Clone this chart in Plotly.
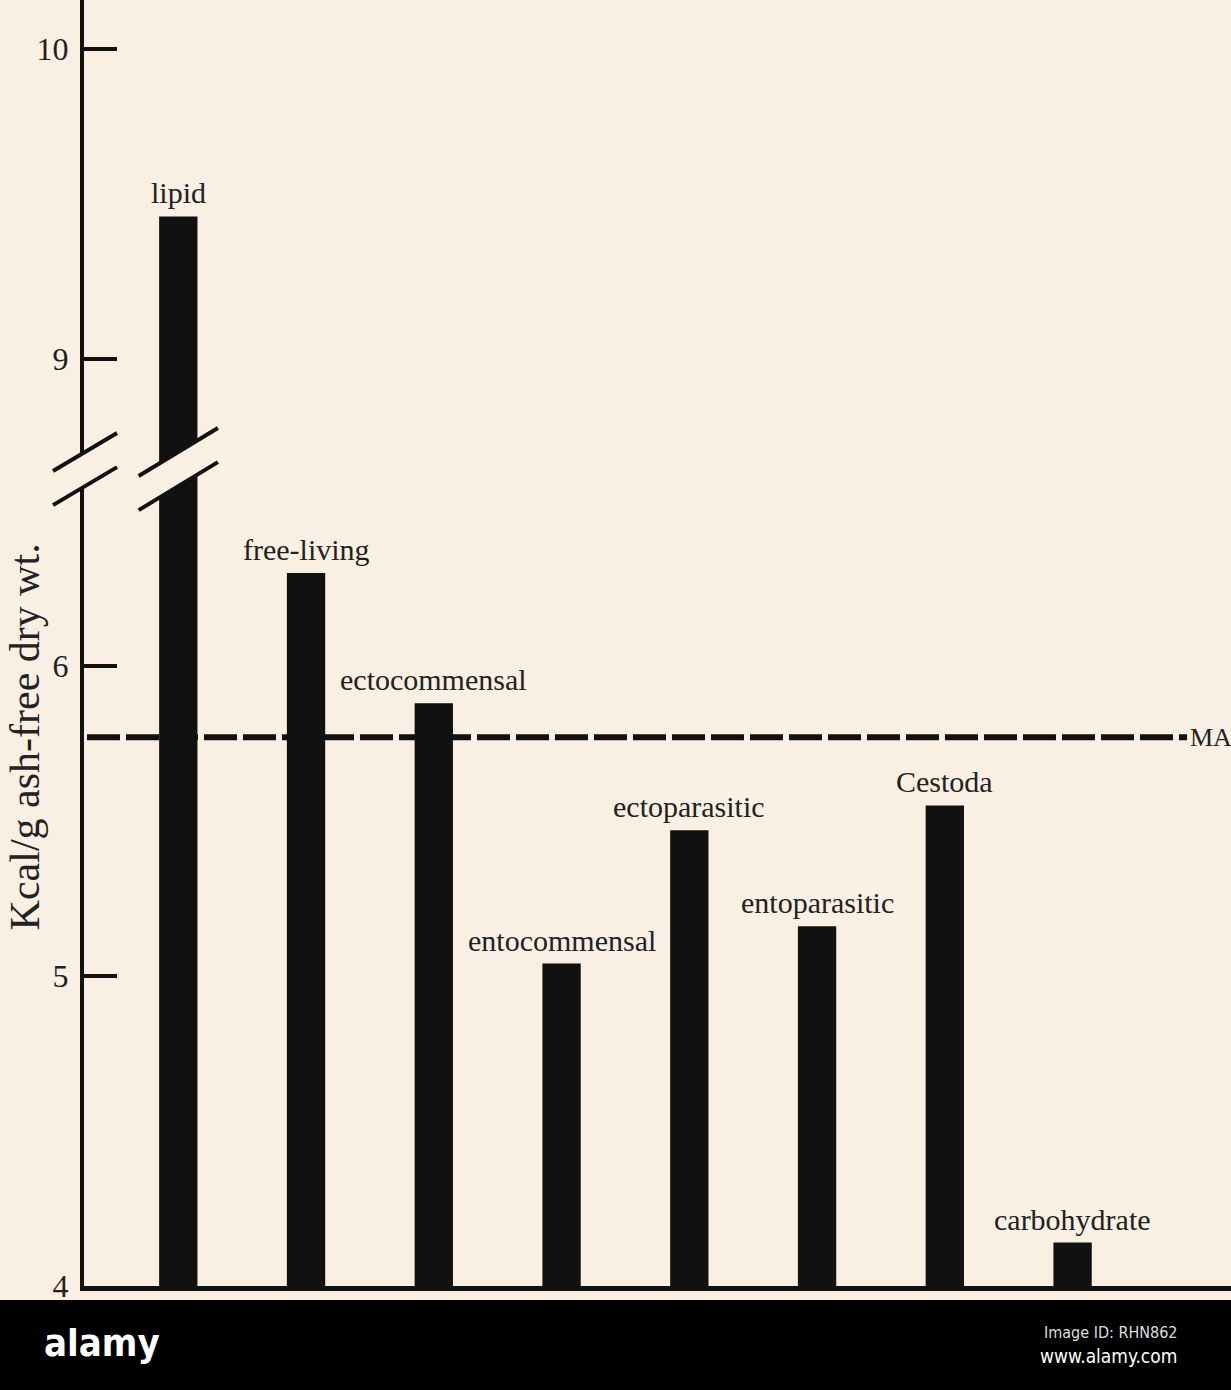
import plotly.graph_objects as go

# ---------------- data ----------------
categories = ["lipid", "free-living", "ectocommensal", "entocommensal",
              "ectoparasitic", "entoparasitic", "Cestoda", "carbohydrate"]
kcal_values = [9.46, 6.30, 5.88, 5.04, 5.47, 5.16, 5.55, 4.14]
reference_line_value = 5.77
reference_line_label = "MA"
y_tick_values = [4, 5, 6, 9, 10]
y_tick_labels = ["4", "5", "6", "9", "10"]
y_axis_title = "Kcal/g ash-free dry wt."

# ---------------- broken axis mapping ----------------
BREAK_OFFSET = 2.01          # upper segment (9-10) is drawn shifted down by this
UPPER_START = 8.0


def to_display(v):
    return v - BREAK_OFFSET if v >= UPPER_START else v


display_values = [to_display(v) for v in kcal_values]
display_ticks = [to_display(v) for v in y_tick_values]

BG = "#f9f0e3"
INK = "#111111"
TXT = "#222222"
SERIF = "Liberation Serif, Times New Roman, serif"
NARROW = "Liberation Sans Narrow, DejaVu Sans Condensed, sans-serif"

W, H = 1231, 1390
ML, MR, MT, MB = 84, 0, 0, 104

fig = go.Figure()
fig.add_trace(go.Bar(
    x=categories, y=display_values, base=0,
    marker=dict(color=INK, line=dict(width=0)),
    width=0.30, hoverinfo="skip", showlegend=False,
))

shapes = []
# dashed reference line (below bars)
shapes.append(dict(type="line", xref="paper", yref="y", layer="below",
                   x0=0.0026, x1=0.9617,
                   y0=reference_line_value, y1=reference_line_value,
                   line=dict(color=INK, width=6, dash="33px,6px")))

# axis break
UP, LO = 6.69, 6.58
r_ax = 0.0613
xl, xr = -0.0270, 0.0288
shapes.append(dict(type="path", xref="paper", yref="y", layer="above",
                   path=f"M{xl},{LO - r_ax} L{xr},{LO + r_ax} L{xr},{UP + r_ax} L{xl},{UP - r_ax} Z",
                   fillcolor=BG, line=dict(width=0)))
for yc in (UP, LO):
    shapes.append(dict(type="line", xref="paper", yref="y", layer="above",
                       x0=xl, x1=xr, y0=yc - r_ax, y1=yc + r_ax,
                       line=dict(color=INK, width=4)))
# break through the lipid bar
bi = 0
hw = 0.31
r_b = 0.0774
shapes.append(dict(type="path", xref="x", yref="y", layer="above",
                   path=f"M{bi - hw},{LO - r_b} L{bi + hw},{LO + r_b} L{bi + hw},{UP + r_b} L{bi - hw},{UP - r_b} Z",
                   fillcolor=BG, line=dict(width=0)))
for yc in (UP, LO):
    shapes.append(dict(type="line", xref="x", yref="y", layer="above",
                       x0=bi - hw, x1=bi + hw, y0=yc - r_b, y1=yc + r_b,
                       line=dict(color=INK, width=4)))

# bottom dark band of the page
shapes.append(dict(type="rect", xref="paper", yref="paper", layer="above",
                   x0=-0.1, x1=1.05, y0=-0.095, y1=(1286 - 1300) / 1286,
                   fillcolor="#000000", line=dict(width=0)))

annotations = []
for cat, dv in zip(categories, display_values):
    annotations.append(dict(x=cat, y=dv, xref="x", yref="y", text=cat,
                            showarrow=False, yanchor="bottom", yshift=5,
                            font=dict(family=SERIF, size=30, color=TXT)))
annotations.append(dict(x=0.9637, y=reference_line_value, xref="paper", yref="y",
                        text=reference_line_label, showarrow=False,
                        xanchor="left", yanchor="middle", borderpad=0,
                        font=dict(family=SERIF, size=26, color=TXT)))
annotations.append(dict(x=(24.5 - ML) / (W - ML - MR), y=0.427, xref="paper", yref="paper",
                        text=y_axis_title, textangle=-90, showarrow=False,
                        xanchor="center", yanchor="middle", borderpad=0,
                        font=dict(family=SERIF, size=42, color=TXT)))
# footer band text
annotations.append(dict(x=(102 - ML) / (W - ML - MR), y=-0.0443, xref="paper", yref="paper",
                        text="<b>alamy</b>", showarrow=False,
                        xanchor="center", yanchor="middle",
                        font=dict(family=NARROW, size=38, color="#ffffff")))
annotations.append(dict(x=0.9547, y=-0.0365, xref="paper", yref="paper",
                        text="Image ID: RHN862", showarrow=False,
                        xanchor="right", yanchor="middle",
                        font=dict(family=NARROW, size=16, color="#dddddd")))
annotations.append(dict(x=0.9547, y=-0.0544, xref="paper", yref="paper",
                        text="www.alamy.com", showarrow=False,
                        xanchor="right", yanchor="middle",
                        font=dict(family=NARROW, size=19, color="#ffffff")))

fig.update_layout(
    width=W, height=H, autosize=False,
    margin=dict(l=ML, r=MR, t=MT, b=MB, pad=0),
    paper_bgcolor=BG, plot_bgcolor="rgba(0,0,0,0)",
    bargap=0.7,
    shapes=shapes, annotations=annotations,
    xaxis=dict(type="category", range=[-0.738, 8.24], showline=True,
               linewidth=5, linecolor=INK, showticklabels=False, ticks="",
               showgrid=False, zeroline=False, fixedrange=True),
    yaxis=dict(range=[4, 8.148], showline=True, linewidth=4, linecolor=INK,
               tickvals=display_ticks, ticktext=y_tick_labels,
               ticks="inside", ticklen=33, tickwidth=4, tickcolor=INK,
               ticklabelstandoff=5,
               tickfont=dict(family=SERIF, size=32, color=TXT),
               showgrid=False, zeroline=False, fixedrange=True),
    font=dict(family=SERIF, color=TXT),
)

fig.write_html("out.html",
               config={"displayModeBar": False, "staticPlot": True},
               post_script="document.body.style.margin='0px';"
                           "document.body.style.background='" + BG + "';")
